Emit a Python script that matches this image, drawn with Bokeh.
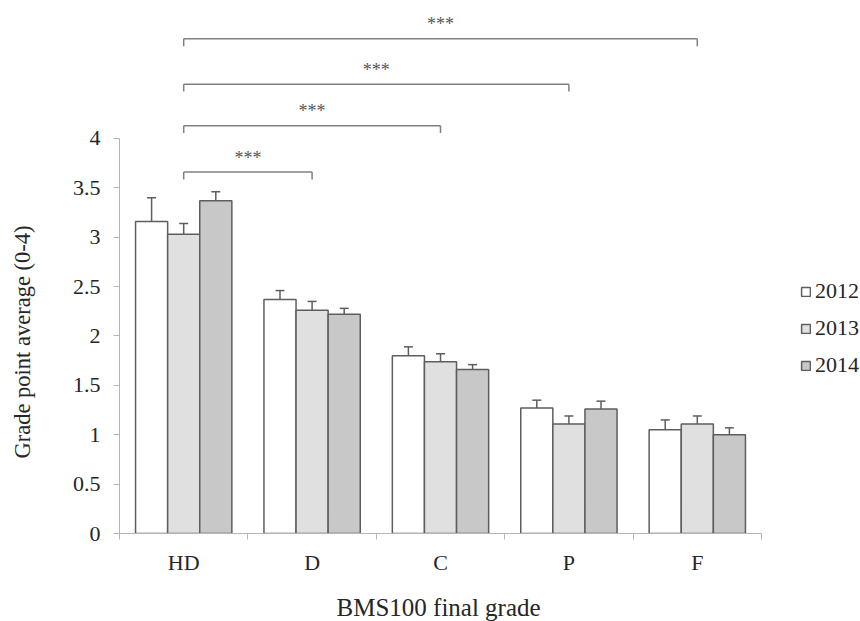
from bokeh.plotting import figure
from bokeh.models import (ColumnDataSource, Range1d, LinearAxis, FixedTicker,
                          CustomJSTickFormatter, Legend, LegendItem, Title)
from bokeh.core.properties import value
from bokeh.embed import file_html
from bokeh.resources import INLINE

# ---------------- data ----------------
categories = ["HD", "D", "C", "P", "F"]
years = ["2012", "2013", "2014"]
gpa_2012 = [3.16, 2.37, 1.80, 1.27, 1.05]
gpa_2013 = [3.03, 2.26, 1.74, 1.11, 1.11]
gpa_2014 = [3.37, 2.22, 1.66, 1.26, 1.00]
err_2012 = [0.24, 0.09, 0.09, 0.08, 0.10]
err_2013 = [0.11, 0.09, 0.08, 0.08, 0.08]
err_2014 = [0.09, 0.06, 0.05, 0.08, 0.07]
y_ticks = [0, 0.5, 1, 1.5, 2, 2.5, 3, 3.5, 4]
bracket_from = ["HD", "HD", "HD", "HD"]
bracket_to = ["D", "C", "P", "F"]
bracket_level = [3.66, 4.13, 4.55, 5.01]
bracket_label = ["***", "***", "***", "***"]

fills = ["#ffffff", "#e0e0e0", "#c8c8c8"]
edge = "#5e5e5e"
axis_col = "#b5b5b5"
text_col = "#262626"
FONT = "Liberation Serif"

n = len(categories)
pos = {c: i + 0.5 for i, c in enumerate(categories)}   # category centres
x_end = n + 99 / 128.4                                 # room for the legend

p = figure(width=860, height=621,
           x_range=Range1d(0, x_end), y_range=Range1d(0, 5.296),
           x_axis_type=None, y_axis_type=None,
           toolbar_location=None, output_backend="svg",
           min_border_left=119, min_border_right=0,
           min_border_top=10, min_border_bottom=88)
p.outline_line_color = None
p.background_fill_color = "white"
p.border_fill_color = "white"

# ---------------- axes ----------------
yaxis = LinearAxis(bounds=(0, 4), ticker=FixedTicker(ticks=y_ticks),
                   formatter=CustomJSTickFormatter(code="return String(tick)"))
yaxis.axis_line_color = axis_col
yaxis.major_tick_line_color = axis_col
yaxis.major_tick_out = 6
yaxis.major_tick_in = 0
yaxis.minor_tick_line_color = None
yaxis.major_label_text_font = FONT
yaxis.major_label_text_font_size = "22px"
yaxis.major_label_text_color = text_col
yaxis.major_label_standoff = 13
# empty spacer label so that the title sits further out
yaxis.axis_label = " "
yaxis.axis_label_text_font_size = "1px"
yaxis.axis_label_standoff = 30
p.add_layout(yaxis, "left")

centers = [pos[c] for c in categories]
bounds = list(range(n + 1))
xaxis = LinearAxis(bounds=(0, n), ticker=FixedTicker(ticks=centers, minor_ticks=bounds),
                   formatter=CustomJSTickFormatter(args=dict(labels=categories),
                                                   code="return labels[Math.floor(tick)]"))
xaxis.axis_line_color = axis_col
xaxis.major_tick_line_color = None
xaxis.major_tick_out = 0
xaxis.major_tick_in = 0
xaxis.minor_tick_line_color = axis_col
xaxis.minor_tick_out = 6
xaxis.minor_tick_in = 0
xaxis.major_label_text_font = FONT
xaxis.major_label_text_font_size = "22px"
xaxis.major_label_text_color = text_col
xaxis.major_label_standoff = 10
xaxis.axis_label = " "
xaxis.axis_label_text_font_size = "1px"
xaxis.axis_label_standoff = 10
p.add_layout(xaxis, "below")

# axis titles
p.add_layout(Title(text="BMS100 final grade", align="left", offset=217,
                   vertical_align="bottom", standoff=0,
                   text_font=FONT, text_font_size="25px",
                   text_font_style="normal", text_color=text_col), "below")
p.add_layout(Title(text="Grade point average (0-4)", align="left", offset=75,
                   vertical_align="bottom", standoff=2,
                   text_font=FONT, text_font_size="22.5px",
                   text_font_style="normal", text_color=text_col), "left")

# ---------------- bars ----------------
series = [(gpa_2012, err_2012), (gpa_2013, err_2013), (gpa_2014, err_2014)]
offsets = [-0.25, 0.0, 0.25]
items = []
for yr, (vals, errs), off, col in zip(years, series, offsets, fills):
    src = ColumnDataSource(dict(x=[pos[c] + off for c in categories], top=vals,
                                upper=[v + e for v, e in zip(vals, errs)]))
    r = p.vbar(x="x", top="top", width=0.25, source=src,
               fill_color=col, line_color=edge, line_width=1.5)
    p.segment(x0="x", y0="top", x1="x", y1="upper", source=src,
              line_color=edge, line_width=1.5)
    p.scatter(x="x", y="upper", marker="dash", size=9, source=src,
              line_color=edge, line_width=1.5)
    items.append(LegendItem(label=yr, renderers=[r]))

legend = Legend(items=items, location=(681, 155), orientation="vertical",
                glyph_width=11, glyph_height=11, label_standoff=4, spacing=11,
                padding=0, margin=0, border_line_color=None,
                background_fill_alpha=0,
                label_text_font=FONT, label_text_font_size="22px",
                label_text_color=text_col)
p.add_layout(legend, "center")

# ---------------- significance brackets ----------------
bsrc = ColumnDataSource(dict(
    x0=[pos[a] for a in bracket_from], x1=[pos[b] for b in bracket_to],
    y=bracket_level,
    ydrop=[v - 0.075 for v in bracket_level],
    xm=[(pos[a] + pos[b]) / 2 for a, b in zip(bracket_from, bracket_to)],
    ytxt=[v + 0.145 for v in bracket_level],
    lab=bracket_label))
bcol = "#808080"
p.segment(x0="x0", y0="y", x1="x1", y1="y", source=bsrc, line_color=bcol, line_width=1.5)
p.segment(x0="x0", y0="y", x1="x0", y1="ydrop", source=bsrc, line_color=bcol, line_width=1.5)
p.segment(x0="x1", y0="y", x1="x1", y1="ydrop", source=bsrc, line_color=bcol, line_width=1.5)
p.text(x="xm", y="ytxt", text="lab", source=bsrc, text_font=value(FONT),
       text_font_size="18px", text_color="#555555", text_align="center",
       text_baseline="alphabetic")

open("out.html", "w").write(file_html(p, INLINE))
